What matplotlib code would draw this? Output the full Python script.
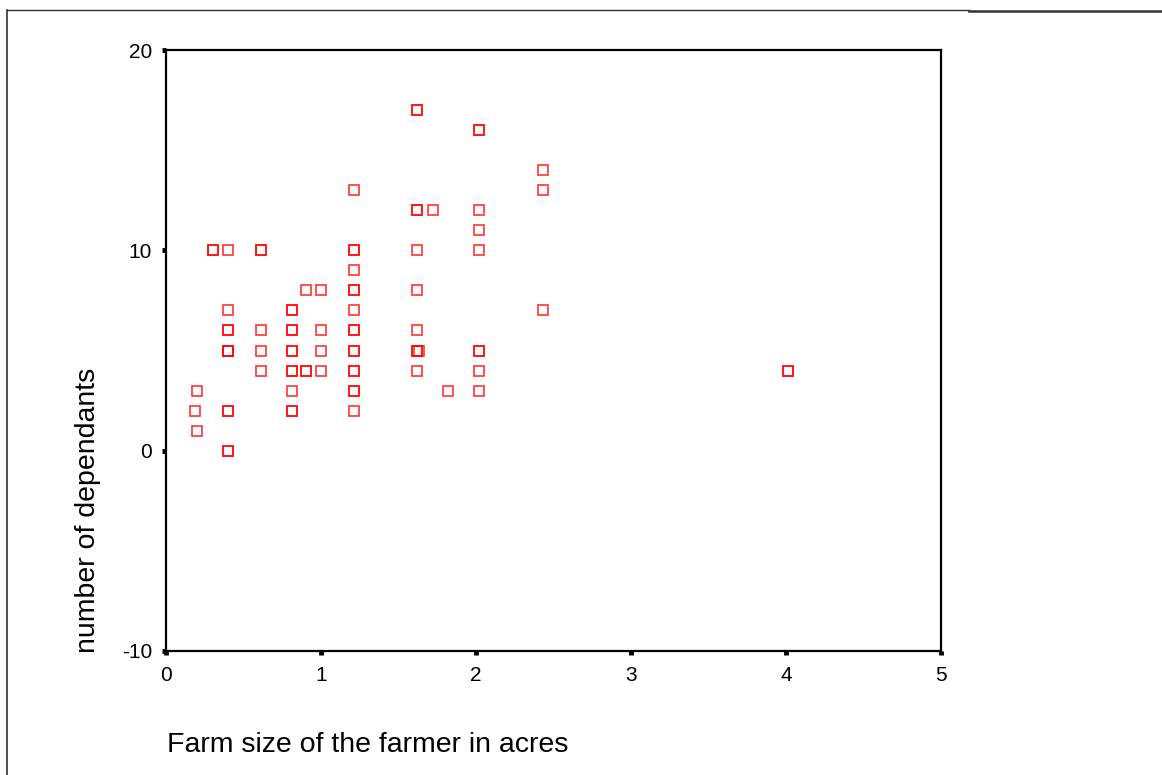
import matplotlib
matplotlib.use("Agg")
import matplotlib.pyplot as plt
from matplotlib.lines import Line2D

plt.rcParams['font.family'] = ['Liberation Sans', 'DejaVu Sans']
plt.rcParams['axes.unicode_minus'] = False

# farm size (acres) and number of dependants; repeated pairs are overlapping cases
farm_size = [
    1.62, 1.62,
    2.02, 2.02,
    2.43,
    1.21, 2.43,
    1.62, 1.62, 1.72, 2.02,
    2.02,
    0.30, 0.30, 0.40, 0.61, 0.61, 1.21, 1.21, 1.62, 2.02,
    1.21,
    0.90, 1.00, 1.21, 1.21, 1.62,
    0.40, 0.81, 0.81, 1.21, 2.43,
    0.40, 0.40, 0.61, 0.81, 0.81, 1.00, 1.21, 1.21, 1.62,
    0.40, 0.40, 0.40, 0.61, 0.81, 0.81, 1.00, 1.21, 1.21, 1.62, 1.62, 1.63, 2.02, 2.02,
    0.61, 0.81, 0.81, 0.90, 0.90, 1.00, 1.21, 1.21, 1.62, 2.02, 4.01, 4.01,
    0.20, 0.81, 1.21, 1.21, 1.82, 2.02,
    0.185, 0.40, 0.40, 0.81, 0.81, 1.21,
    0.20,
    0.40, 0.40,
]
dependants = [
    17, 17,
    16, 16,
    14,
    13, 13,
    12, 12, 12, 12,
    11,
    10, 10, 10, 10, 10, 10, 10, 10, 10,
    9,
    8, 8, 8, 8, 8,
    7, 7, 7, 7, 7,
    6, 6, 6, 6, 6, 6, 6, 6, 6,
    5, 5, 5, 5, 5, 5, 5, 5, 5, 5, 5, 5, 5, 5,
    4, 4, 4, 4, 4, 4, 4, 4, 4, 4, 4, 4,
    3, 3, 3, 3, 3, 3,
    2, 2, 2, 2, 2, 2,
    1,
    0, 0,
]

x_ticks = [0, 1, 2, 3, 4, 5]
y_ticks = [-10, 0, 10, 20]

W, H = 1162, 775
fig = plt.figure(figsize=(W / 100, H / 100), dpi=100)
ax = fig.add_axes([166 / W, 1 - 651 / H, (941 - 166) / W, (651 - 50) / H])

ax.plot(farm_size, dependants, linestyle='none', marker='s', markersize=6.8,
        markerfacecolor='none', markeredgecolor='red', markeredgewidth=1.2, alpha=0.8)

ax.set_xlim(0, 5)
ax.set_ylim(-10, 20)
ax.set_xticks(x_ticks)
ax.set_yticks(y_ticks)
ax.tick_params(direction='out', length=3, width=3.5, labelsize=15, colors='black')
ax.tick_params(axis='x', pad=8)
ax.tick_params(axis='y', pad=7)
for s in ax.spines.values():
    s.set_linewidth(1.6)
    s.set_color('black')

fig.text(88 / W, 1 - 510 / H, 'number of dependants', rotation=90,
         ha='center', va='center', fontsize=20.5)
fig.text(167 / W, 1 - 745 / H, 'Farm size of the farmer in acres',
         ha='left', va='center', fontsize=20.5)

# outer frame
fig.add_artist(Line2D([7 / W, 7 / W], [0, 1 - 10 / H], color='#333333', lw=1.2,
                      transform=fig.transFigure))
fig.add_artist(Line2D([7 / W, 969 / W], [1 - 10 / H, 1 - 10 / H], color='#333333', lw=1.0,
                      transform=fig.transFigure))
fig.add_artist(Line2D([969 / W, 1], [1 - 11 / H, 1 - 11 / H], color='#333333', lw=1.8,
                      transform=fig.transFigure))

fig.savefig('out.png', dpi=100)
